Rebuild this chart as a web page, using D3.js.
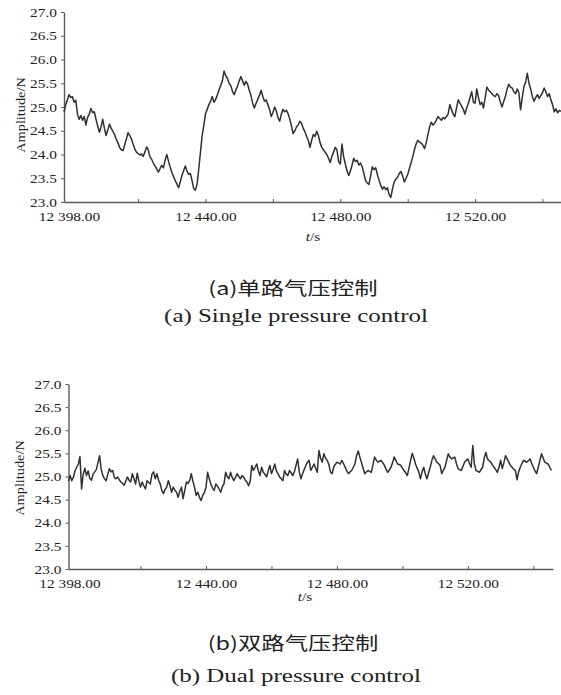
<!DOCTYPE html>
<html><head><meta charset="utf-8">
<script src="https://cdn.jsdelivr.net/npm/d3@7"></script>
<style>body{margin:0;background:#fff} svg{display:block}</style>
</head><body>
<svg id="c" width="561" height="695"></svg>
<script>
// sampling of the recorded signal (s)
const sampleStart = 12398;
const sampleStep = 0.5;

// (a) single pressure control, Amplitude/N
const singleForce = [
24.90,25.05,25.15,25.26,25.20,25.22,25.10,25.14,24.85,24.74,24.82,24.72,24.80,24.62,24.78,24.85,24.97,24.88,24.90,24.74,
24.60,24.47,24.58,24.74,24.55,24.40,24.52,24.64,24.55,24.49,24.42,24.32,24.25,24.15,24.10,24.08,24.20,24.32,24.46,24.40,
24.33,24.22,24.12,24.05,24.02,23.99,24.01,23.96,24.05,24.16,24.10,23.95,23.90,23.82,23.76,23.70,23.63,23.70,23.77,23.72,
23.88,24.00,23.86,23.74,23.62,23.54,23.45,23.38,23.30,23.42,23.56,23.66,23.76,23.65,23.58,23.60,23.45,23.28,23.25,23.38,
23.70,24.05,24.40,24.62,24.86,24.95,25.05,25.12,25.22,25.10,25.16,25.25,25.36,25.45,25.55,25.76,25.66,25.60,25.50,25.45,
25.33,25.26,25.36,25.44,25.55,25.64,25.55,25.46,25.54,25.48,25.35,25.24,25.08,24.98,25.08,25.16,25.25,25.35,25.22,25.12,
25.15,25.05,24.95,24.80,24.88,25.00,24.92,24.78,24.70,24.85,24.95,24.90,24.93,24.86,24.75,24.60,24.44,24.50,24.58,24.62,
24.70,24.66,24.55,24.48,24.38,24.30,24.15,24.30,24.42,24.38,24.49,24.40,24.25,24.15,24.10,24.05,24.00,23.92,23.83,23.96,
24.05,24.15,24.10,23.85,23.80,24.22,23.95,23.80,23.65,23.56,23.65,23.78,23.92,23.85,23.88,23.78,23.82,23.74,23.60,23.45,
23.40,23.37,23.55,23.74,23.68,23.72,23.58,23.46,23.35,23.27,23.32,23.26,23.30,23.15,23.10,23.28,23.42,23.48,23.52,23.60,
23.64,23.55,23.42,23.50,23.58,23.70,23.82,23.95,24.10,24.22,24.30,24.26,24.24,24.20,24.12,24.25,24.42,24.58,24.68,24.62,
24.66,24.72,24.80,24.76,24.72,24.78,24.75,24.80,24.85,25.05,24.95,24.85,24.80,24.98,25.15,25.08,25.02,24.95,24.85,24.98,
25.08,25.20,25.32,25.10,25.08,25.38,25.20,25.05,25.10,24.98,25.20,25.42,25.36,25.32,25.28,25.24,25.22,25.28,25.24,25.10,
25.00,25.12,25.22,25.38,25.48,25.42,25.40,25.32,25.28,25.38,25.30,24.94,25.20,25.43,25.52,25.71,25.50,25.38,25.22,25.12,
25.20,25.26,25.18,25.24,25.30,25.40,25.32,25.22,25.28,25.15,25.05,24.90,24.96,24.88,24.93,24.91
];

// (b) dual pressure control, Amplitude/N
const dualForce = [
24.90,25.02,24.91,24.98,25.13,25.20,25.27,25.43,24.73,25.05,25.18,25.02,25.12,24.96,24.92,25.05,25.10,25.15,25.30,25.45,
25.15,25.02,24.95,24.91,25.05,25.17,25.10,25.13,24.98,24.95,24.99,24.93,24.88,24.85,24.81,24.90,24.99,24.92,24.88,25.06,
24.95,24.84,25.07,24.90,24.77,24.88,24.80,24.73,24.91,24.87,24.84,25.05,25.10,24.95,25.06,24.92,24.84,24.70,24.63,24.72,
24.77,24.91,24.80,24.66,24.77,24.70,24.66,24.55,24.68,24.77,24.52,24.70,24.88,24.85,24.91,25.06,24.90,24.77,24.59,24.66,
24.55,24.48,24.59,24.65,24.77,25.09,24.95,24.84,24.75,24.70,24.84,24.79,24.73,24.66,24.78,24.84,25.09,25.00,24.95,25.09,
24.98,24.91,24.98,25.06,25.00,24.95,25.02,24.99,24.92,24.88,24.80,24.90,25.24,25.13,25.20,25.27,25.12,25.02,25.20,25.09,
25.05,24.99,25.12,25.24,25.06,25.15,25.27,25.12,25.06,24.99,24.95,24.91,25.13,25.05,25.02,25.13,25.08,25.02,25.10,25.24,
25.38,25.10,24.95,25.06,25.15,25.24,25.31,25.35,25.13,25.20,25.27,25.18,25.09,25.56,25.40,25.31,25.49,25.40,25.35,25.27,
25.10,25.06,25.20,25.26,25.31,25.29,25.27,25.35,25.28,25.20,25.12,25.06,25.10,25.13,25.20,25.27,25.45,25.55,25.42,25.30,
25.18,25.06,25.10,25.13,25.11,25.09,25.25,25.42,25.36,25.31,25.33,25.35,25.30,25.24,25.16,25.09,25.14,25.20,25.30,25.42,
25.35,25.27,25.26,25.24,25.18,25.13,25.08,25.02,25.18,25.35,25.50,25.40,25.27,25.18,25.10,24.95,25.10,25.20,25.05,24.95,
25.08,25.20,25.35,25.45,25.38,25.31,25.28,25.24,25.06,25.14,25.20,25.35,25.49,25.42,25.38,25.40,25.42,25.28,25.17,25.15,
25.13,25.22,25.31,25.35,25.38,25.28,25.20,25.67,25.27,25.13,25.11,25.09,25.15,25.20,25.40,25.52,25.38,25.34,25.31,25.25,
25.20,25.15,25.09,25.20,25.35,25.17,25.30,25.45,25.38,25.31,25.24,25.20,25.16,25.13,24.93,25.10,25.20,25.28,25.35,25.33,
25.31,25.34,25.38,25.28,25.20,25.12,25.06,25.20,25.35,25.49,25.40,25.31,25.29,25.27,25.20,25.13
];

// axis ticks
const xLabelTicks = [12398, 12440, 12480, 12520];
const xLabelTexts = ["12 398.00", "12 440.00", "12 480.00", "12 520.00"];
const xMarkTicks = [12420, 12440, 12460, 12480, 12500, 12520, 12540];
const yTicks = [23.0, 23.5, 24.0, 24.5, 25.0, 25.5, 26.0, 26.5, 27.0];
const yTickTexts = ["23.0", "23.5", "24.0", "24.5", "25.0", "25.5", "26.0", "26.5", "27.0"];
const yLabel = "Amplitude/N";
const captionsCN = ["(a)单路气压控制", "(b)双路气压控制"];
const captionsEN = ["(a) Single pressure control", "(b) Dual pressure control"];

const panels = [
  {values: singleForce, left: 64, right: 561, top: 12, bottom: 202, xEnd: 12545.5, firstShift: 5, labPad: 10,
   yLabX: 20, yLabY: 115, tsX: 313, tsY: 241, capX: 293, cn: 0, cnY: 295, enY: 322},
  {values: dualForce, left: 68.5, right: 553, top: 384, bottom: 569, xEnd: 12546, firstShift: 1, labPad: 10,
   yLabX: 19, yLabY: 478, tsX: 305, tsY: 601, capX: 293, cn: 1, cnY: 650, enY: 682}
];

const svg = d3.select("#c");
const serif = "Liberation Serif, Times New Roman, serif";
const axisColor = "#5a5a5a";
const SX = 1.18;

panels.forEach((p, pi) => {
  const x = d3.scaleLinear().domain([sampleStart, p.xEnd]).range([p.left, p.right]);
  const y = d3.scaleLinear().domain([23, 27]).range([p.bottom, p.top]);
  const g = svg.append("g");

  // y axis
  const ya = g.append("g").attr("transform", `translate(${p.left},0)`)
    .attr("font-family", serif)
    .call(d3.axisLeft(y).tickValues(yTicks).tickFormat((d, i) => yTickTexts[i]).tickSize(3).tickSizeOuter(0).tickPadding(3));
  ya.attr("font-family", serif);
  ya.select(".domain").attr("stroke", axisColor).attr("stroke-width", 1.4);
  ya.selectAll(".tick line").attr("stroke", axisColor).attr("stroke-width", 1);
  ya.selectAll(".tick text").style("font-family", serif).style("font-size", "13px").attr("fill", "#222")
    .attr("transform", `scale(${SX},1)`);

  // x axis marks
  const xa = g.append("g").attr("transform", `translate(0,${p.bottom})`)
    .call(d3.axisBottom(x).tickValues(xMarkTicks).tickFormat("").tickSize(-3).tickSizeOuter(0));
  xa.select(".domain").attr("stroke", axisColor).attr("stroke-width", 1.6);
  xa.selectAll(".tick line").attr("stroke", axisColor).attr("stroke-width", 1);

  // x labels
  const xl = g.append("g").attr("transform", `translate(0,${p.bottom})`)
    .call(d3.axisBottom(x).tickValues(xLabelTicks).tickFormat((d, i) => xLabelTexts[i]).tickSize(0).tickPadding(p.labPad));
  xl.attr("font-family", serif);
  xl.select(".domain").remove();
  xl.selectAll(".tick text").style("font-family", serif).style("font-size", "13px").attr("fill", "#222")
    .attr("transform", (d, i) => `translate(${i === 0 ? p.firstShift : 0},0) scale(${SX},1)`);

  // line
  const line = d3.line().x((d, i) => x(sampleStart + i * sampleStep)).y(d => y(d));
  g.append("path").datum(p.values).attr("d", line)
    .attr("fill", "none").attr("stroke", "#303030").attr("stroke-width", 1.5).attr("stroke-linejoin", "round");

  // y label
  g.append("text").attr("transform", `translate(${p.yLabX + 5},${p.yLabY}) rotate(-90) scale(1.1,1)`)
    .attr("text-anchor", "middle").style("font-family", serif).style("font-size", "13px").attr("fill", "#222").text(yLabel);

  // x label t/s
  const ts = g.append("text").attr("transform", `translate(${p.tsX},${p.tsY}) scale(${SX},1)`)
    .attr("text-anchor", "middle").style("font-family", serif).style("font-size", "13px").attr("fill", "#222");
  ts.append("tspan").attr("font-style", "italic").text("t");
  ts.append("tspan").text("/s");

  // captions
  svg.append("text").attr("transform", `translate(${p.capX},${p.cnY}) scale(1.3,1)`)
    .attr("text-anchor", "middle").style("font-family", "Noto Sans CJK SC, sans-serif").style("font-size", "18px").attr("fill", "#222")
    .text(captionsCN[p.cn]);
  svg.append("text").attr("transform", `translate(${p.capX + 3},${p.enY}) scale(1.28,1)`)
    .attr("text-anchor", "middle").style("font-family", serif).style("font-size", "19.5px").attr("fill", "#222")
    .text(captionsEN[p.cn]);
});
</script>
</body></html>
